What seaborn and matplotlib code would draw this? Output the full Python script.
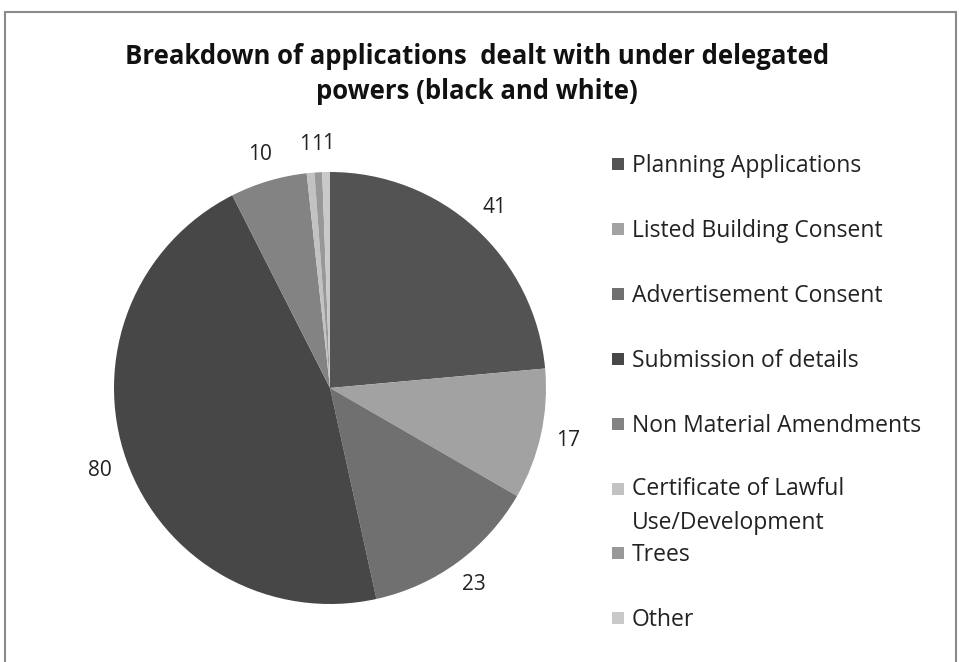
import matplotlib
matplotlib.use("Agg")
import matplotlib.pyplot as plt
import seaborn as sns
from matplotlib.patches import Rectangle
from matplotlib.lines import Line2D

categories = ["Planning Applications", "Listed Building Consent", "Advertisement Consent",
              "Submission of details", "Non Material Amendments",
              "Certificate of Lawful\nUse/Development", "Trees", "Other"]
values = [41, 17, 23, 80, 10, 1, 1, 1]
colors = ["#535353", "#a2a2a2", "#707070", "#474747", "#838383", "#c2c2c2", "#989898", "#c9c9c9"]

sns.set_theme(style="white")
plt.rcParams['font.family'] = ['Open Sans', 'DejaVu Sans']

fig = plt.figure(figsize=(9.59, 6.62), dpi=100)
W, H = 959, 662

# chart border
for (x0, y0, x1, y1) in [(5, 12, 5, 662), (5, 12, 956, 12), (956, 12, 956, 662)]:
    fig.add_artist(Line2D([x0 / W, x1 / W], [1 - y0 / H, 1 - y1 / H],
                          transform=fig.transFigure, color="#8a8a8a", lw=1.5))

cx, cy, r = 330, 388, 216
ax = fig.add_axes([(cx - r) / W, 1 - (cy + r) / H, 2 * r / W, 2 * r / H])
wedges, texts = ax.pie(values, colors=colors, startangle=90, counterclock=False,
                       labels=[str(v) for v in values], labeldistance=1.13,
                       textprops=dict(fontsize=15, color="#222222"),
                       wedgeprops=dict(linewidth=0))
for t in texts:
    t.set_ha("center")
    t.set_va("center")
# spread the three tiny-slice labels slightly so they sit side by side
for t, dx in zip(texts[5:], [-0.012, 0.0, 0.012]):
    x, y = t.get_position()
    t.set_position((x + dx, y))
ax.set_xlim(-1, 1)
ax.set_ylim(-1, 1)
ax.set_aspect("equal")
ax.axis("off")

fig.text(477 / W, 1 - 74 / H, "Breakdown of applications  dealt with under delegated\npowers (black and white)",
         ha="center", va="center", fontsize=18.5, fontweight="bold", linespacing=1.42,
         color="#111111")

# legend
ys = [164, 229, 294, 359, 424, 489, 553, 618]
for cat, col, y in zip(categories, colors, ys):
    fig.add_artist(Rectangle((612 / W, 1 - (y + 6) / H), 12 / W, 12 / H,
                             transform=fig.transFigure, facecolor=col, edgecolor="none"))
    nlines = cat.count("\n")
    fig.text(632 / W, 1 - (y + 8 + 32 * nlines) / H, cat, ha="left", va="baseline",
             fontsize=16.5, color="#222222", linespacing=1.58)

fig.savefig("out.png", dpi=100, facecolor="white")
